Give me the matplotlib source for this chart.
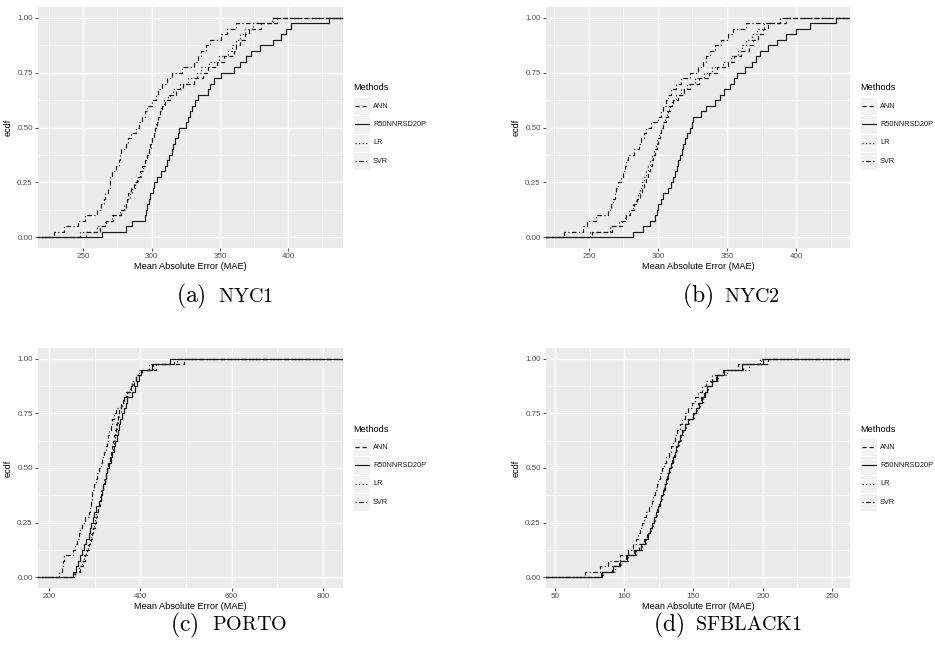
import numpy as np
import matplotlib
matplotlib.use("Agg")
from matplotlib import pyplot as plt
from matplotlib.lines import Line2D
from matplotlib.patches import Rectangle

plt.rcParams['font.family'] = ['Liberation Sans', 'DejaVu Sans']
plt.rcParams['mathtext.fontset'] = 'cm'

W, H = 935, 656

methods = ["ANN", "R50NNRSD20P", "LR", "SVR"]

# MAE samples (40 per method)
nyc1_ann = [252, 262, 267, 272, 278, 281, 282, 283, 285, 287, 289.5, 291.7, 293, 295, 296.5, 297.8, 299, 300, 301.5, 302.7,
            304, 305, 306.5, 307.6, 310, 313.7, 318, 323, 331, 338, 341, 347.8, 353, 360, 362, 365, 368, 371, 380, 392]
nyc1_r50 = [264, 281, 286, 295, 296, 297, 298, 299, 301, 302, 304, 307, 309.5, 311, 313, 315, 316, 317.5, 319, 320,
            325, 326.5, 328, 329.5, 331.5, 334, 341, 343, 346, 351, 360, 365, 369, 373, 379, 389, 395, 398, 402, 430]
nyc1_lr = [248, 260, 266, 271, 277, 280, 282, 284, 286, 288, 290, 292, 293.5, 295, 297, 298, 299.5, 300.5, 301.5, 302.5,
           303.5, 305, 306, 307, 309, 312, 316, 321, 327, 333, 336, 342, 349, 356, 359, 362, 365, 368, 374, 388]
nyc1_svr = [229, 236, 246, 251, 260, 263, 265, 266, 268, 269.5, 270, 271, 274, 276, 277, 278, 281, 283, 285, 289,
            291, 293, 295, 297, 300, 303, 305, 307.6, 311, 315, 322, 331, 334, 336, 340, 343, 351, 355, 362, 389]

nyc2_ann = [252, 267, 274, 277, 280, 283, 285, 286.8, 288.5, 290, 291.5, 292.8, 294, 295.5, 296.5, 297.7, 299, 300, 301.5, 302.5,
            304, 305.5, 307, 308.5, 311, 314.6, 319, 323, 330, 337, 343, 351, 355, 360, 366, 369, 372.5, 376, 380, 393]
nyc2_r50 = [282, 289, 294, 297.7, 299, 300, 302, 303.7, 307, 309.8, 311, 312, 313.5, 314.6, 316, 317.5, 318.5, 319.4, 321, 323,
            324.5, 325.5, 331, 335, 341, 345, 348, 352, 355, 357, 363, 368, 371, 374, 380, 386, 393, 400, 410, 429]
nyc2_lr = [251, 265, 272, 276, 279, 282, 284, 285.5, 287, 288.5, 290, 291.5, 293, 294.5, 296, 297, 298.5, 299.5, 301, 302,
           303.5, 305, 306.5, 308, 310, 313, 317, 321, 327, 333, 339, 347, 353, 358, 361, 364, 368, 372, 377, 388]
nyc2_svr = [232, 245.6, 249, 255, 264, 266, 267.5, 269, 270, 271, 273, 274.7, 276, 277, 278.5, 283, 286, 288, 290, 291.6,
            295, 300, 302, 303.7, 305.5, 307.5, 309.5, 313, 317, 323, 329, 332.7, 335, 337.6, 341, 346, 350.5, 354.5, 364, 388]

porto_ann = [257, 269, 275, 280, 284, 287.5, 291, 294.8, 297.5, 300, 303, 305.7, 308.5, 311, 314, 316.6, 319, 322, 325, 327.6,
             330, 333, 336, 338.5, 340.5, 342, 344, 345.8, 348.5, 351, 354, 356.7, 362, 367.7, 380, 386, 391, 404, 435, 495]
porto_r50 = [252, 259, 264, 269, 273, 276.5, 282, 287.5, 290, 293, 296, 298.4, 303, 309, 313, 316.6, 319, 322, 325, 327.6,
             331, 335, 338.5, 342, 345, 348, 350.5, 353, 356.5, 360, 364, 367.7, 372, 382, 388, 393, 397, 400.5, 425, 466]
porto_lr = [254, 265, 272, 277, 281, 285, 289, 292.5, 295.5, 298, 301, 304, 307, 310, 312.5, 315, 318, 321, 324, 327,
            330, 333.5, 337, 340, 342.5, 344.5, 347, 349, 351.5, 354, 357, 360, 365, 371, 379, 384, 390, 398, 420, 480]
porto_svr = [222, 229, 231, 233, 252, 257, 261, 265.6, 269, 273, 280, 287.5, 290, 292, 293.5, 294.8, 298, 302, 305.5, 309,
             313, 317, 320.5, 324, 327, 330, 332.5, 335, 338.5, 342.5, 346, 356.7, 364, 371, 376.5, 382, 391, 400.5, 427, 473]

sfb_ann = [83, 91, 96.5, 101.5, 107, 111, 114.5, 116.5, 118.3, 119.7, 121.2, 122.6, 124, 125.2, 126.5, 127.7, 129, 130, 131.2, 132.3,
           133.5, 134.8, 136, 137.5, 138.8, 140.3, 141.8, 143.7, 145.7, 149.5, 151.5, 153.5, 155.5, 157.5, 159.5, 162.5, 166.5, 172, 186, 204]
sfb_r50 = [84, 92, 97, 102, 108, 112, 115, 117, 118.7, 120, 121.5, 123, 124.3, 125.5, 126.8, 128, 129.2, 130.3, 131.4, 132.5,
           133.7, 135, 136.3, 137.7, 139, 140.5, 142, 144, 146, 150, 152, 154, 156, 158, 160, 163, 167, 172, 185, 200]
sfb_lr = [85, 93, 98, 103, 108.5, 112.5, 115.5, 117.5, 119, 120.5, 122, 123.4, 124.7, 126, 127.2, 128.5, 129.6, 130.7, 131.8, 133,
          134.2, 135.5, 136.8, 138.2, 139.5, 141, 142.5, 144.5, 146.5, 150.3, 152.5, 154.5, 156.5, 158.5, 160.5, 163.5, 167.5, 174, 190, 199]
sfb_svr = [72, 82.5, 88.5, 96.9, 102.5, 106.5, 108.5, 110, 111.3, 112.5, 114.3, 116, 118, 119.7, 121, 122, 123.3, 124.5, 125.8, 127,
           128.8, 130.5, 132.3, 134, 135.3, 136.5, 138.3, 140, 142, 143.8, 146, 148.6, 151, 153, 156, 159, 163.5, 171, 182, 198]

panels = [
    ("a", "NYC1", [nyc1_ann, nyc1_r50, nyc1_lr, nyc1_svr], (217, 440), [250, 300, 350, 400], (38, 7, 343, 248)),
    ("b", "NYC2", [nyc2_ann, nyc2_r50, nyc2_lr, nyc2_svr], (219, 439), [250, 300, 350, 400], (546, 7, 850, 248)),
    ("c", "PORTO", [porto_ann, porto_r50, porto_lr, porto_svr], (176, 844), [200, 400, 600, 800], (38, 348, 343, 588)),
    ("d", "SFBLACK1", [sfb_ann, sfb_r50, sfb_lr, sfb_svr], (43.5, 263), [50, 100, 150, 200, 250], (546, 348, 850, 588)),
]
caption_x = {"a": 176, "b": 682, "c": 170, "d": 653}

styles = {
    "ANN": dict(dashes=[3.5, 2.5]),
    "R50NNRSD20P": dict(linestyle="-"),
    "LR": dict(dashes=[1, 2]),
    "SVR": dict(dashes=[1, 2, 4, 2]),
}
LW = 0.85


def fx(x):
    return x / W


def fy(y):
    return 1 - y / H


def ecdf_line(ax, vals, lim, **kw):
    v = np.sort(np.array(vals, dtype=float))
    n = len(v)
    xs = np.concatenate([[lim[0] - 1000], v, [lim[1] + 1000]])
    ys = np.concatenate([[0], np.arange(1, n + 1) / n, [1]])
    ax.step(xs, ys, where="post", color="#1a1a1a", lw=LW, **kw)


fig = plt.figure(figsize=(W / 100, H / 100), dpi=100)

for tag, name, series, lim, xt, (L, T, R, B) in panels:
    ax = fig.add_axes([fx(L), fy(B), (R - L) / W, (B - T) / H])
    ax.set_facecolor("#EBEBEB")
    for s in ax.spines.values():
        s.set_visible(False)
    step = xt[1] - xt[0]
    minors = [t + step / 2 for t in [xt[0] - step] + xt]
    ax.set_xticks(xt)
    ax.set_xticks(minors, minor=True)
    ax.set_yticks([0, 0.25, 0.5, 0.75, 1.0])
    ax.set_yticks([0.125, 0.375, 0.625, 0.875], minor=True)
    ax.set_yticklabels(["0.00", "0.25", "0.50", "0.75", "1.00"])
    ax.grid(which="major", color="white", lw=1.0)
    ax.grid(which="minor", color="white", lw=0.45)
    ax.set_axisbelow(True)
    ax.tick_params(which="major", length=2.2, width=0.6, color="#333333", labelsize=5.8,
                   labelcolor="#4D4D4D", pad=1.5)
    ax.tick_params(which="minor", length=0)
    for m, vals in zip(methods, series):
        ecdf_line(ax, vals, lim, **styles[m])
    ax.set_xlim(*lim)
    ax.set_ylim(-0.05, 1.05)
    ax.set_xlabel("Mean Absolute Error (MAE)", fontsize=6.6, labelpad=1)
    ax.set_ylabel("ecdf", fontsize=6.6, labelpad=3)

    # legend, ggplot style
    lx = R + 10
    fig.text(fx(lx), fy(T + 81), "Methods", fontsize=6.6, va="center", ha="left")
    kh = 18.3
    for i, m in enumerate(methods):
        ky = T + 90 + i * kh
        fig.add_artist(Rectangle((fx(lx), fy(ky + kh)), 17 / W, kh / H, transform=fig.transFigure,
                                 fc="#F2F2F2", ec="white", lw=0.6))
        cy = fy(ky + kh / 2)
        fig.add_artist(Line2D([fx(lx + 2), fx(lx + 16)], [cy, cy], transform=fig.transFigure,
                              color="#1a1a1a", lw=LW, **styles[m]))
        fig.text(fx(lx + 20), cy, m, fontsize=5.3, va="center", ha="left", color="#1A1A1A")

    # caption
    cy = fy(296 if T < 300 else 625)
    cx = caption_x[tag]
    fig.text(fx(cx), cy, r"$\mathrm{(%s)}$" % tag, fontsize=17, va="center", ha="left")
    fig.text(fx(cx + 42), cy, r"$\mathrm{%s}$" % name, fontsize=14.5, va="center", ha="left")

fig.savefig("out.png", dpi=100)
